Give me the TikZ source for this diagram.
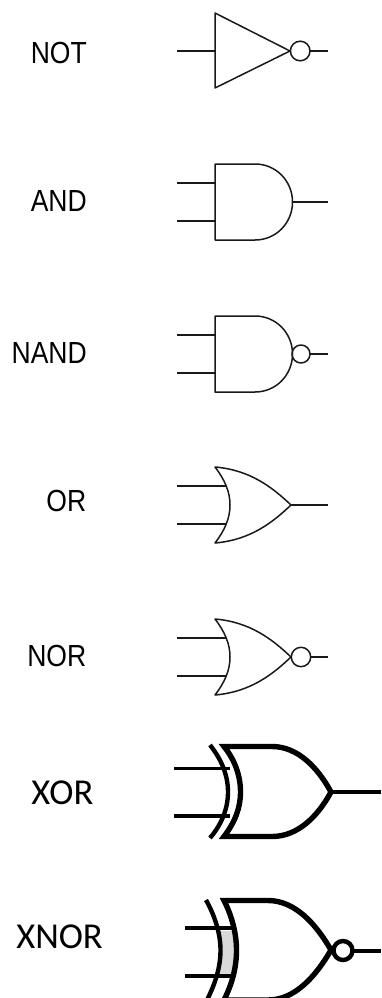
\documentclass[tikz,border=0pt]{standalone}
\usepackage{fontspec}
\newfontfamily\thinfont[FakeStretch=0.87]{Liberation Sans}
\newfontfamily\bigfont{Carlito}
\tikzset{
  wire/.style={draw=black!90,line width=1.4pt},
  gate/.style={draw=black!90,line width=1.5pt,line join=round},
  bigwire/.style={draw=black,line width=3.6pt},
  biggate/.style={draw=black,line width=5.4pt,line join=miter},
  xnorwire/.style={draw=black,line width=4.6pt},
  xnorback/.style={draw=black,line width=4.4pt},
  lab/.style={inner sep=0pt,anchor=base east,font=\thinfont\fontsize{30.5pt}{34pt}\selectfont,text=black},
  biglab/.style={inner sep=0pt,anchor=base east,font=\bigfont\fontsize{36.5pt}{40pt}\selectfont,text=black},
}
\begin{document}
\begin{tikzpicture}[x=1pt,y=-1pt]
\useasboundingbox (0,0) rectangle (381,998);
\clip (0,0) rectangle (381,998);
% labels
\node[lab] (tnot) at (87,63.3) {NOT};
\node[lab] (tand) at (87,211) {AND};
\node[lab] (tnand) at (87,363) {NAND};
\node[lab] (tor) at (86.5,511.5) {OR};
\node[lab] (tnor) at (86.5,666) {NOR};
\node[biglab] (txor) at (93.5,804) {XOR};
\node[biglab] (txnor) at (103,948) {XNOR};
% NOT
\draw[wire] (177,51) -- (215,51);
\draw[gate] (215,13) -- (215,88) -- (290,51) -- cycle;
\draw[gate] (300.2,51) circle (9.8);
\draw[wire] (310,51) -- (328,51);
% AND
\draw[wire] (177,183) -- (215,183) (177,221) -- (215,221) (292,202) -- (328,202);
\draw[gate] (215,164) -- (255,164) .. controls (276,164) and (292.5,181) .. (292.5,202) .. controls (292.5,223) and (276,240) .. (255,240) -- (215,240) -- cycle;
% NAND
\draw[wire] (177,335) -- (215,335) (177,373) -- (215,373) (310,354) -- (328,354);
\draw[gate] (215,316) -- (255,316) .. controls (276,316) and (292.5,333) .. (292.5,354) .. controls (292.5,375) and (276,392) .. (255,392) -- (215,392) -- cycle;
\draw[gate] (301,354) circle (9);
% OR
\draw[wire] (177,486) -- (226,486) (177,524) -- (226,524) (291,505) -- (328,505);
\draw[gate] (215,467) .. controls (250,470) and (272,487) .. (291,505) .. controls (272,523) and (250,540) .. (215,543) .. controls (225,530) and (230,518) .. (230,505) .. controls (230,492) and (225,480) .. (215,467) -- cycle;
% NOR
\draw[wire] (177,638) -- (226,638) (177,676) -- (226,676) (310.5,657) -- (328,657);
\draw[gate] (215,619) .. controls (250,622) and (272,639) .. (291,657) .. controls (272,675) and (250,692) .. (215,695) .. controls (225,682) and (230,670) .. (230,657) .. controls (230,644) and (225,632) .. (215,619) -- cycle;
\draw[gate] (301,657) circle (9.7);
% XOR
\draw[bigwire] (174,768.5) -- (230,768.5) (174,816) -- (230,816) (331,792) -- (381,792);
\draw[xnorback] (210,745) .. controls (222,760) and (228,776) .. (228,792) .. controls (228,808) and (222,824) .. (210,838);
\draw[biggate] (224,746.5) -- (272,746.5) .. controls (298,746.5) and (318,768) .. (331,792) .. controls (318,816) and (298,836.5) .. (272,836.5) -- (224,836.5) .. controls (235,822) and (240.5,808) .. (240.5,792) .. controls (240.5,776) and (235,760) .. (224,746.5) -- cycle;
% XNOR
\fill[black!15] (220,931) rectangle (234,975);
\draw[xnorwire] (185,928) -- (232,928) (185,976) -- (232,976) (352,951) -- (381,951);
\draw[xnorback] (206,900) .. controls (215,916) and (220.5,934) .. (220.5,950) .. controls (220.5,968) and (215,984) .. (207,1000);
\draw[biggate] (224,900.5) -- (268,900.5) .. controls (295,900.5) and (316,924) .. (331,950) .. controls (316,976) and (295,1000) .. (268,1000) -- (224,1000) .. controls (232,984) and (236.5,968) .. (236.5,950) .. controls (236.5,934) and (232,916) .. (224,900.5) -- cycle;
\draw[xnorback] (343,950.5) circle (9.5);
\end{tikzpicture}
\end{document}
